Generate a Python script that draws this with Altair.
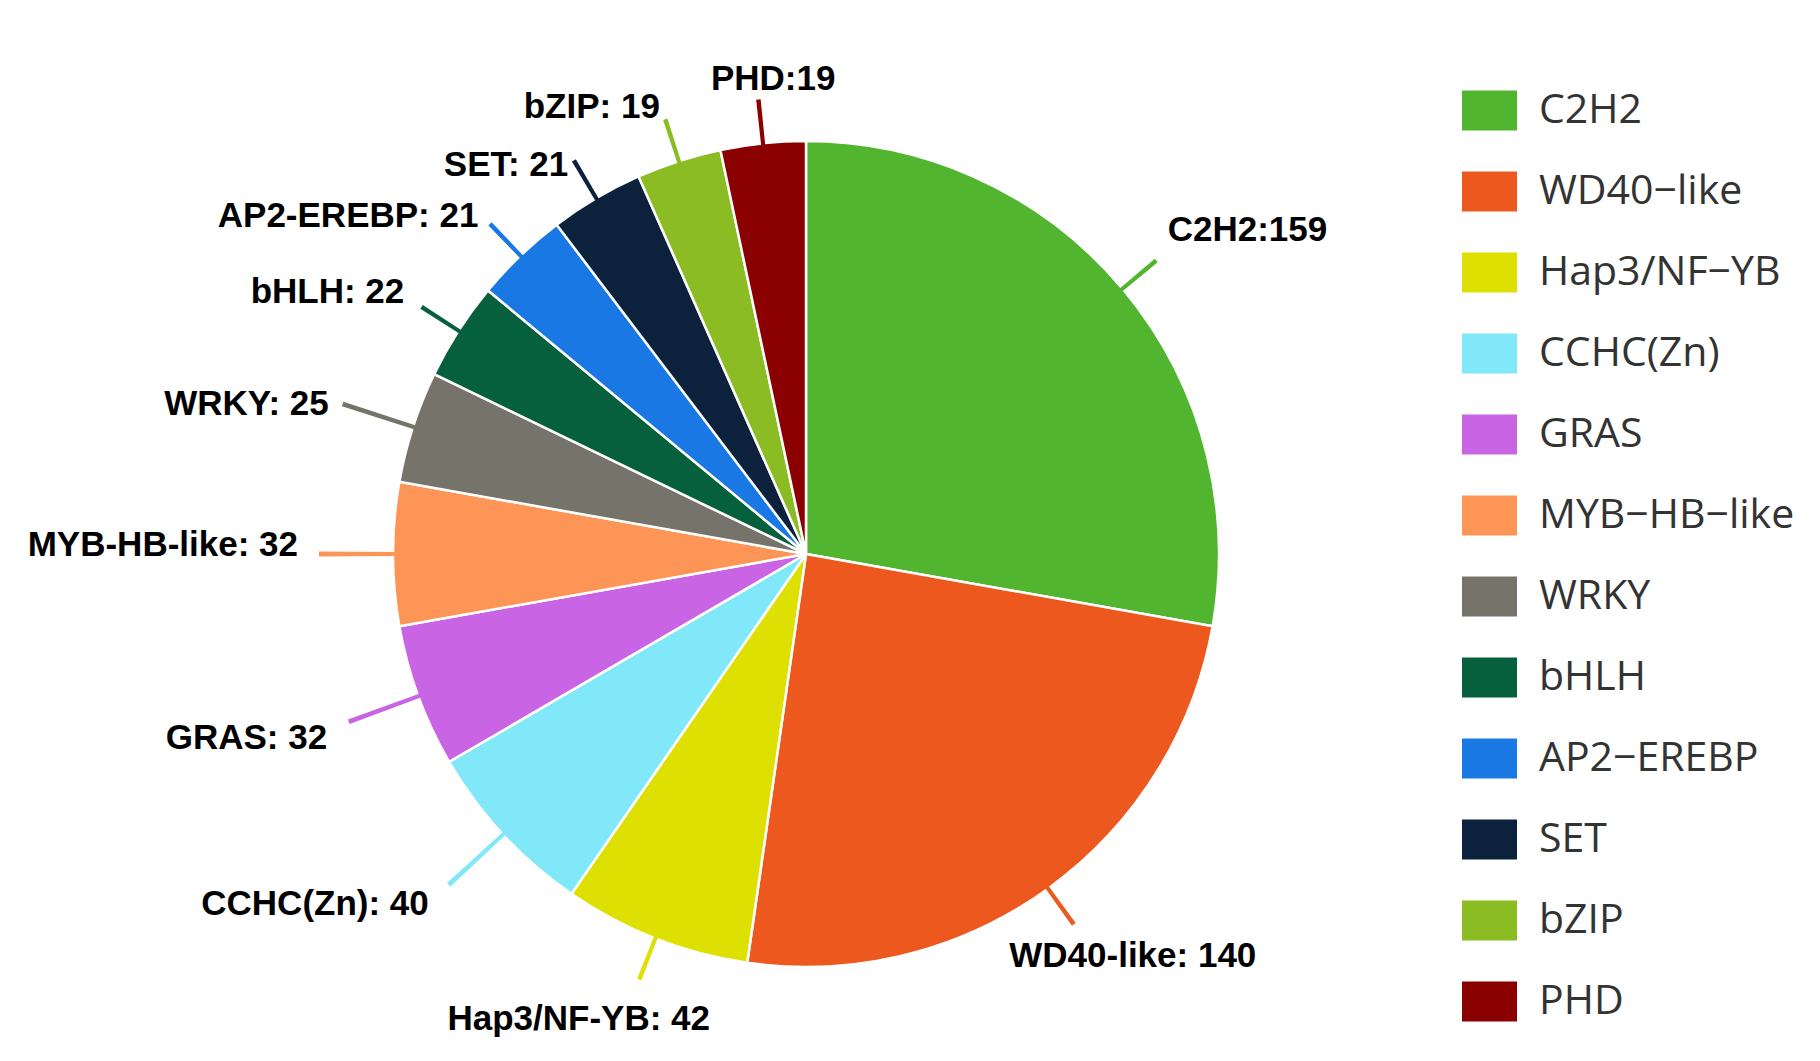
import math
import altair as alt
import pandas as pd

families = ["C2H2", "WD40-like", "Hap3/NF-YB", "CCHC(Zn)", "GRAS", "MYB-HB-like",
            "WRKY", "bHLH", "AP2-EREBP", "SET", "bZIP", "PHD"]
counts = [159, 140, 42, 40, 32, 32, 25, 22, 21, 21, 19, 19]
labels = ["C2H2:159", "WD40-like: 140", "Hap3/NF-YB: 42", "CCHC(Zn): 40", "GRAS: 32",
          "MYB-HB-like: 32", "WRKY: 25", "bHLH: 22", "AP2-EREBP: 21", "SET: 21",
          "bZIP: 19", "PHD:19"]
colors = ["#52b530", "#ec581e", "#dde000", "#80e8f8", "#c964e4", "#fd9556",
          "#75736a", "#06603e", "#1a78e5", "#0c213b", "#8bbc24", "#8b0000"]

df = pd.DataFrame({"family": families, "count": counts, "label": labels})
df["end"] = df["count"].cumsum()
df["start"] = df["end"] - df["count"]
df["mid"] = (df["start"] + df["end"]) / 2
total = int(df["count"].sum())

CX, CY, R = 798, 546, 413
theta_scale = alt.Scale(domain=[0, total], range=[0, 2 * math.pi])
color = alt.Color(
    "family:N",
    scale=alt.Scale(domain=families, range=colors),
    legend=alt.Legend(
        title=None, orient="none", legendX=1454, legendY=75, padding=0,
        symbolType="M-1,-0.727H1V0.727H-1Z", symbolSize=3025, symbolStrokeWidth=0,
        labelFont="Open Sans", labelFontSize=41, labelColor="#333333",
        labelOffset=22, rowPadding=33, labelLimit=400,
        labelExpr="replace(datum.label, regexp('-', 'g'), '\u2212')",
    ),
)
cx = alt.value(CX)
cy = alt.value(CY)
base = alt.Chart(df)

pie = base.mark_arc(radius=R, stroke="white", strokeWidth=2.5).encode(
    theta=alt.Theta("start:Q", scale=theta_scale, stack=None),
    theta2="end:Q", color=color, x=cx, y=cy,
)


def leaders(names, r_out):
    return (
        base.transform_filter(alt.FieldOneOfPredicate(field="family", oneOf=names))
        .transform_calculate(a0="datum.mid - 0.45", a1="datum.mid + 0.45")
        .mark_arc(radius=r_out, radius2=R - 4)
        .encode(theta=alt.Theta("a0:Q", scale=theta_scale, stack=None),
                theta2="a1:Q", color=color, x=cx, y=cy)
    )


def text(name, r, align, dx=0, dy=0):
    return (
        base.transform_filter(alt.datum.family == name)
        .mark_text(radius=r, align=align, baseline="middle", dx=dx, dy=dy,
                   font="Liberation Sans", fontWeight="bold", fontSize=35, color="black")
        .encode(theta=alt.Theta("mid:Q", scale=theta_scale, stack=None),
                text="label:N", x=cx, y=cy)
    )


groupA = ["CCHC(Zn)", "GRAS", "MYB-HB-like", "WRKY"]
others = ["C2H2", "WD40-like", "Hap3/NF-YB", "bHLH", "AP2-EREBP", "SET", "bZIP", "PHD"]

label_layout = [
    ("C2H2", 485, "left", -10, -12),
    ("WD40-like", 515, "center", 25, -15),
    ("Hap3/NF-YB", 505, "center", -43, -5),
    ("CCHC(Zn)", 510, "right", -3, 4),
    ("GRAS", 510, "right", 0, 8),
    ("MYB-HB-like", 510, "right", 2, -9),
    ("WRKY", 510, "right", 8, 7),
    ("bHLH", 468, "right", -8, -9),
    ("AP2-EREBP", 468, "right", -4, 0),
    ("SET", 468, "right", 0, 14),
    ("bZIP", 468, "right", -2, -2),
    ("PHD", 478, "center", 17, 0),
]

chart = alt.layer(
    pie,
    leaders(groupA, 487),
    leaders(others, 457),
    *[text(*spec) for spec in label_layout],
).properties(
    width=1804, height=1045, padding=0, autosize=alt.AutoSizeParams(type="none"),
).configure_view(stroke=None)

chart.save("out.html", embed_options={"renderer": "svg", "actions": False})
